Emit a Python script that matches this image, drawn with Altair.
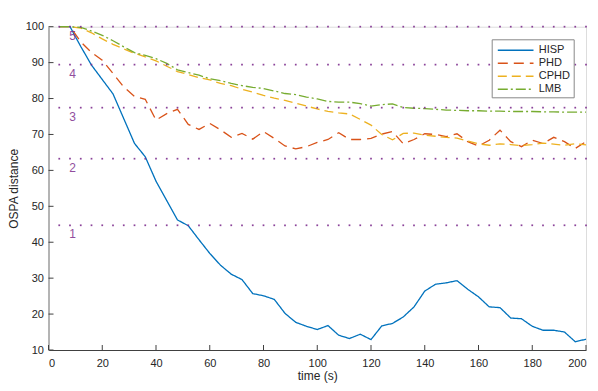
import altair as alt
import pandas as pd

# ---------------- data ----------------
t = list(range(4, 201, 4))

hisp = [100, 100, 94.5, 89.3, 85.3, 81.3, 74.4, 67.5, 63.8, 57.0,
        51.6, 46.2, 44.6, 40.7, 36.9, 33.6, 31.1, 29.6, 25.7, 25.1,
        24.1, 20.2, 17.7, 16.6, 15.7, 16.8, 14.1, 13.2, 14.4, 12.9,
        16.7, 17.4, 19.2, 22.0, 26.4, 28.3, 28.7, 29.3, 26.9, 24.8,
        22.0, 21.8, 18.9, 18.7, 16.6, 15.5, 15.5, 15.0, 12.3, 13.0]

phd = [100, 100, 95.8, 92.8, 90.7, 87.0, 83.2, 80.6, 79.8, 74.0,
       75.8, 77.0, 72.8, 71.4, 73.1, 71.3, 69.2, 70.3, 68.7, 70.8,
       68.9, 66.8, 66.0, 66.6, 67.8, 68.6, 70.5, 68.6, 68.6, 68.9,
       70.1, 70.8, 67.4, 68.6, 70.2, 70.0, 69.4, 70.2, 68.0, 66.8,
       68.4, 71.2, 68.0, 66.6, 68.4, 67.5, 69.2, 68.0, 66.1, 68.0]

cphd = [100, 100, 99.6, 98.3, 96.6, 95.1, 93.8, 92.6, 91.6, 90.5,
        89.0, 87.5, 86.7, 85.8, 85.2, 84.2, 83.6, 82.6, 81.8, 80.9,
        80.1, 79.5, 78.7, 77.9, 77.1, 76.4, 76.0, 75.7, 74.2, 72.6,
        70.0, 68.5, 70.3, 70.4, 69.8, 69.5, 69.2, 69.0, 68.2, 67.4,
        67.0, 67.4, 67.2, 66.9, 67.2, 67.6, 67.3, 67.0, 67.4, 67.1]

lmb = [100, 100, 99.8, 98.8, 97.6, 96.1, 94.4, 92.8, 92.0, 91.1,
       89.8, 88.0, 87.2, 86.5, 85.5, 85.0, 84.2, 83.6, 83.1, 82.8,
       82.1, 81.4, 81.1, 80.4, 79.9, 79.2, 79.0, 79.0, 78.6, 77.9,
       78.3, 78.5, 77.5, 77.3, 77.2, 77.0, 76.8, 76.7, 76.6, 76.6,
       76.5, 76.5, 76.4, 76.4, 76.4, 76.3, 76.3, 76.2, 76.2, 76.2]

series_names = ["HISP", "PHD", "CPHD", "LMB"]
series_values = [hisp, phd, cphd, lmb]

thresholds = [44.72, 63.25, 77.46, 89.44, 100.0]
threshold_labels = ["1", "2", "3", "4", "5"]
label_t = 9

x_ticks = list(range(0, 201, 20))
y_ticks = list(range(10, 101, 10))

# ---------------- styles ----------------
colors = ["#0072BD", "#D95319", "#EDB120", "#77AC30"]
dashes = [[1, 0], [10, 6], [9, 5], [10, 3, 2, 3]]
purple = "#7E2F8E"
font = "Liberation Sans"
W, H = 537.5, 323.3

rows = []
for name, vals in zip(series_names, series_values):
    for i, (tt, vv) in enumerate(zip(t, vals)):
        rows.append({"t": tt, "v": vv, "series": name, "order": i})
df = pd.DataFrame(rows)

thr_rows = [{"t": tt, "v": th} for th in thresholds for tt in t]
df_thr = pd.DataFrame(thr_rows)
df_lab = pd.DataFrame({"t": [label_t] * len(thresholds), "v": thresholds, "label": threshold_labels})
df_xt = pd.DataFrame({"t": x_ticks})
df_yt = pd.DataFrame({"v": y_ticks})

xscale = alt.Scale(domain=[0, 200], nice=False)
yscale = alt.Scale(domain=[10, 100], nice=False)

x_axis = alt.Axis(values=x_ticks, title="time (s)", grid=False, tickSize=0,
                  labelPadding=7, titlePadding=2, domainColor="#404040",
                  labelColor="#262626", titleColor="#262626", labelOverlap=False,
                  labelFontSize=11, titleFontSize=12, titleFontWeight="normal",
                  labelFont=font, titleFont=font)
y_axis = alt.Axis(values=y_ticks, title="OSPA distance", grid=False, tickSize=0,
                  labelPadding=5, titlePadding=5, domainColor="#a0a0a0", domainWidth=1.5,
                  labelColor="#262626", titleColor="#262626", labelOverlap=False,
                  labelFontSize=11, titleFontSize=12, titleFontWeight="normal",
                  labelFont=font, titleFont=font)

legend = alt.Legend(title=None, orient="none", legendX=443.2, legendY=12.6,
                    symbolType="M-0.7,0L4.4,0", symbolSize=196, symbolStrokeWidth=1.5,
                    symbolFillColor="transparent",
                    labelFont=font, labelFontSize=11, labelColor="#262626",
                    labelOffset=28, padding=3, rowPadding=0,
                    strokeColor="#888888", fillColor="white")

X = alt.X("t:Q", scale=xscale, axis=x_axis)
Y = alt.Y("v:Q", scale=yscale, axis=y_axis)

lines = alt.Chart(df).mark_line(strokeWidth=1.3).encode(
    x=X, y=Y,
    color=alt.Color("series:N", scale=alt.Scale(domain=series_names, range=colors),
                    legend=legend, sort=series_names),
    strokeDash=alt.StrokeDash("series:N", scale=alt.Scale(domain=series_names, range=dashes),
                              legend=legend, sort=series_names),
    order="order:Q",
)

dots = alt.Chart(df_thr).mark_square(size=3, color=purple, opacity=0.9).encode(x=X, y=Y)

labels = alt.Chart(df_lab).mark_text(dy=9, fontSize=12, font=font, color=purple,
                                     opacity=0.85).encode(x=X, y=Y, text="label:N")

xticks = alt.Chart(df_xt).mark_rule(color="#404040", strokeWidth=1).encode(
    x=X, y=alt.value(H), y2=alt.value(H - 5),
)
yticks = alt.Chart(df_yt).mark_rule(color="#404040", strokeWidth=1).encode(
    y=Y, x=alt.value(0), x2=alt.value(5),
)

chart = alt.layer(lines, dots, labels, xticks, yticks).properties(
    width=W, height=H,
    autosize=alt.AutoSizeParams(type="none"),
    padding={"left": 40.5, "top": 18.7, "right": 4, "bottom": 33},
).configure_view(stroke=None).configure_axis(labelOverlap=False).configure(background="white")

chart.save("out.html", embed_options={"renderer": "svg", "actions": False})
